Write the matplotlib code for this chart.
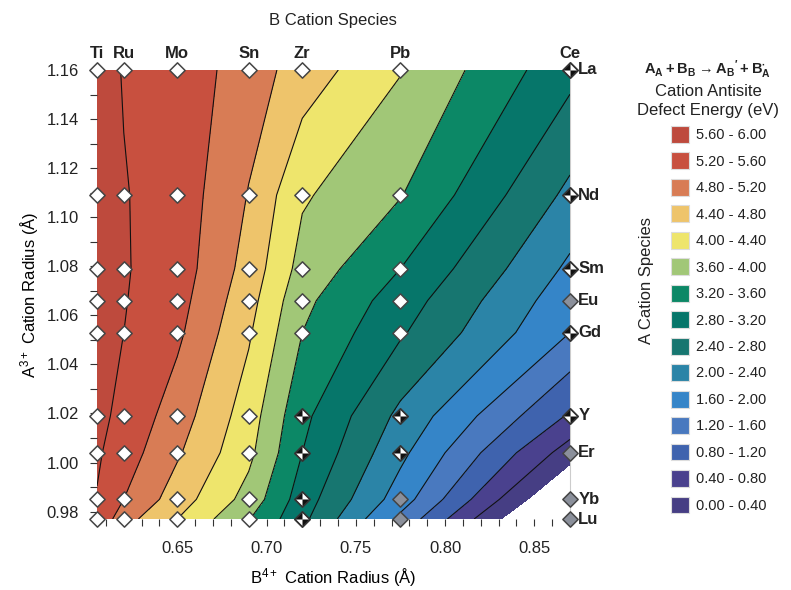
import numpy as np
import matplotlib as mpl
import matplotlib.pyplot as plt
from matplotlib.path import Path
from matplotlib.patches import Patch
from matplotlib.ticker import MultipleLocator

# global plot style
mpl.rcParams['font.family'] = ['Liberation Sans', 'DejaVu Sans']
mpl.rcParams['mathtext.fontset'] = 'custom'
mpl.rcParams['mathtext.rm'] = 'Liberation Sans'
mpl.rcParams['mathtext.bf'] = 'Liberation Sans:bold'
mpl.rcParams['mathtext.default'] = 'regular'
mpl.rcParams['text.color'] = '#222222'

# B site cations (top axis) and A site cations (right side)
b_names = ['Ti', 'Ru', 'Mo', 'Sn', 'Zr', 'Pb', 'Ce']
b_radius = [0.605, 0.62, 0.65, 0.69, 0.72, 0.775, 0.87]
a_names = ['Lu', 'Yb', 'Er', 'Y', 'Gd', 'Eu', 'Sm', 'Nd', 'La']
a_radius = [0.977, 0.985, 1.004, 1.019, 1.053, 1.066, 1.079, 1.109, 1.16]

# antisite defect energy (eV), one list per A cation, columns follow b_names
e_lu = [5.55, 4.95, 4.40, 3.62, 2.90, 1.50, -1.03]
e_yb = [5.58, 5.20, 4.60, 3.85, 3.00, 1.80, -0.60]
e_er = [5.65, 5.40, 4.85, 4.10, 3.20, 2.10, 0.20]
e_y = [5.70, 5.50, 5.00, 4.20, 3.30, 2.30, 0.75]
e_gd = [5.73, 5.60, 5.28, 4.45, 3.60, 2.85, 1.60]
e_eu = [5.74, 5.62, 5.35, 4.55, 3.70, 3.00, 1.75]
e_sm = [5.75, 5.63, 5.41, 4.65, 3.85, 3.20, 1.92]
e_nd = [5.75, 5.62, 5.44, 4.78, 4.05, 3.62, 2.30]
e_la = [5.75, 5.58, 5.45, 5.00, 4.62, 4.02, 2.92]

# marker style for each calculation: w = white, h = half filled, g = grey
kind_rows = ['wwwwhgg', 'wwwwhgg', 'wwwwhhg', 'wwwwhhh', 'wwwwwwh',
             'wwwwwwg', 'wwwwwwh', 'wwwwwwh', 'wwwwwwh']

levels = [0.0, 0.4, 0.8, 1.2, 1.6, 2.0, 2.4, 2.8, 3.2, 3.6, 4.0, 4.4, 4.8, 5.2, 5.6, 6.0]
band_colors = ['#463e84', '#4a418e', '#3f63ae', '#4979bf', '#3585c8', '#2b84a7',
               '#177670', '#06766a', '#0c8866', '#a1c777', '#eee56c', '#eec46b',
               '#d87c55', '#c8503f', '#be4a3d']

energy = np.array([e_lu, e_yb, e_er, e_y, e_gd, e_eu, e_sm, e_nd, e_la])

fig = plt.figure(figsize=(7.91, 5.90), dpi=100)
ax = fig.add_axes([97 / 791, 1 - 519 / 590, 473 / 791, 449 / 590])

ax.contourf(b_radius, a_radius, energy, levels=levels, colors=band_colors)
ax.contour(b_radius, a_radius, energy, levels=levels[1:-1], colors='#111111',
           linewidths=0.8)

ax.set_xlim(0.605, 0.87)
ax.set_ylim(0.977, 1.16)

# markers
diamond = Path([(0, 1), (1, 0), (0, -1), (-1, 0), (0, 1)],
               [Path.MOVETO, Path.LINETO, Path.LINETO, Path.LINETO, Path.CLOSEPOLY])
halves = Path([(0, 0), (-1, 0), (0, 1), (0, 0), (0, 0), (1, 0), (0, -1), (0, 0)],
              [Path.MOVETO, Path.LINETO, Path.LINETO, Path.CLOSEPOLY,
               Path.MOVETO, Path.LINETO, Path.LINETO, Path.CLOSEPOLY])
ms = 11
for i, a in enumerate(a_radius):
    for j, b in enumerate(b_radius):
        k = kind_rows[i][j]
        face = {'w': 'white', 'h': 'white', 'g': '#8b909b'}[k]
        ax.plot(b, a, ls='none', marker=diamond, ms=ms, mfc=face, mec='#444444',
                mew=1.1, clip_on=False, zorder=5)
        if k == 'h':
            ax.plot(b, a, ls='none', marker=halves, ms=ms, mfc='#111111', mec='none',
                    clip_on=False, zorder=6)
            ax.plot(b, a, ls='none', marker=diamond, ms=ms, mfc='none', mec='#333333',
                    mew=1.1, clip_on=False, zorder=7)

# element names
for name, b in zip(b_names, b_radius):
    ax.annotate(name, (b, a_radius[-1]), xytext=(0, 6.5), textcoords='offset points',
                ha='center', va='bottom', fontsize=12, fontweight='bold')
for name, a in zip(a_names, a_radius):
    ax.annotate(name, (b_radius[-1], a), xytext=(6, 0), textcoords='offset points',
                ha='left', va='center', fontsize=12, fontweight='bold')

# axes styling
for side in ['top', 'bottom', 'left']:
    ax.spines[side].set_visible(False)
ax.spines['right'].set_color('#cccccc')
ax.spines['right'].set_linewidth(0.8)
ax.spines['right'].set_zorder(0.5)
ax.xaxis.set_major_locator(MultipleLocator(0.05))
ax.xaxis.set_minor_locator(MultipleLocator(0.01))
ax.yaxis.set_major_locator(MultipleLocator(0.02))
ax.yaxis.set_minor_locator(MultipleLocator(0.01))
ax.xaxis.set_major_formatter(mpl.ticker.FormatStrFormatter('%.2f'))
ax.yaxis.set_major_formatter(mpl.ticker.FormatStrFormatter('%.2f'))
ax.tick_params(which='both', direction='out', color='#333333', width=0.8,
               length=5, labelsize=12, labelcolor='#222222', pad=8)
ax.tick_params(axis='x', pad=11)

ax.set_xlabel('B$^{4+}$ Cation Radius (Å)', fontsize=12, labelpad=7)
ax.set_ylabel('A$^{3+}$ Cation Radius (Å)', fontsize=12, labelpad=4)

fig.text(333 / 791, 1 - 20 / 590, 'B Cation Species', ha='center', va='center',
         fontsize=12)
fig.text(646 / 791, 1 - 280 / 590, 'A Cation Species', ha='center', va='center',
         fontsize=12, rotation=90)

# legend
fig.text(708 / 791, 1 - 70 / 590,
         r"$\mathbf{A_A + B_B \rightarrow {A_B}' + B_A^{\bullet}}$",
         ha='center', va='center', fontsize=10.5)
fig.text(708 / 791, 1 - 91 / 590, 'Cation Antisite', ha='center', va='center',
         fontsize=12)
fig.text(708 / 791, 1 - 111 / 590, 'Defect Energy (eV)', ha='center', va='center',
         fontsize=12)

handles = []
labels = []
for lo, hi, c in zip(levels[:-1], levels[1:], band_colors):
    handles.append(Patch(facecolor=c, edgecolor='#dddddd', linewidth=0.8))
    labels.append('{:.2f} - {:.2f}'.format(lo, hi))
fig.legend(handles[::-1], labels[::-1], loc='upper left',
           bbox_to_anchor=(671 / 791, 1 - 126 / 590), frameon=False,
           fontsize=10.5, handlelength=1.2, handleheight=1.4,
           labelspacing=0.66, handletextpad=0.5, borderpad=0, borderaxespad=0)

fig.savefig('out.png', dpi=100)
